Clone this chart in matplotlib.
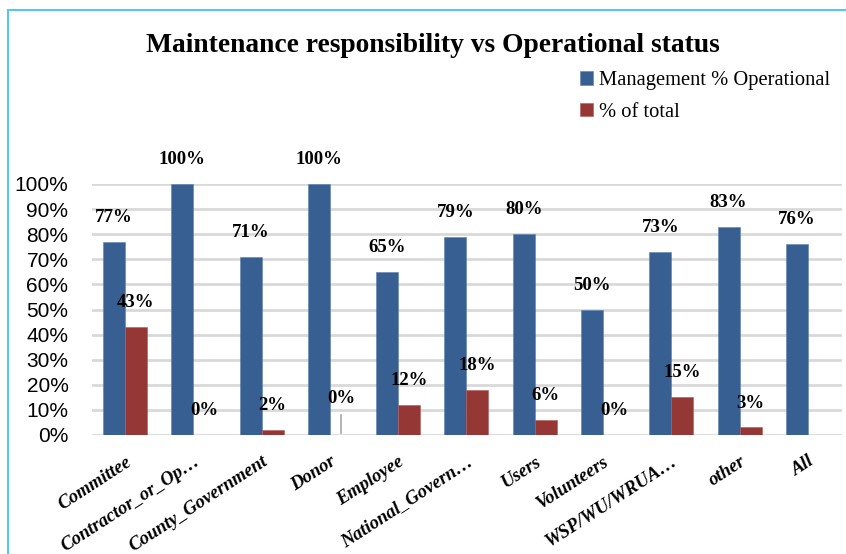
import matplotlib
matplotlib.use("Agg")
import matplotlib.pyplot as plt
from matplotlib.patches import Rectangle
import numpy as np

categories = ["Committee", "Contractor_or_Op…", "County_Government", "Donor", "Employee",
              "National_Govern…", "Users", "Volunteers", "WSP/WU/WRUA…", "other", "All"]
operational = [77, 100, 71, 100, 65, 79, 80, 50, 73, 83, 76]
share_total = [43, 0, 2, 0, 12, 18, 6, 0, 15, 3, None]
series_names = ["Management % Operational", "% of total"]
yticks = [0, 10, 20, 30, 40, 50, 60, 70, 80, 90, 100]

BLUE = "#385F91"
RED = "#953735"
GRID = "#D9D9D9"
SERIF = "Liberation Serif"
SANS = "Liberation Sans"

W, H = 846, 554
fig = plt.figure(figsize=(W / 100, H / 100), dpi=100)
ax = fig.add_axes([92 / W, 1 - 435 / H, 750 / W, 251 / H])

x = np.arange(len(categories))
bw = 0.322
op = np.array(operational, dtype=float) / 100
st = np.array([np.nan if v is None else v for v in share_total], dtype=float) / 100

b1 = ax.bar(x - bw / 2, op, bw, color=BLUE, edgecolor="#5B80B0", linewidth=0.4,
            label=series_names[0], zorder=3)
b2 = ax.bar(x + bw / 2, np.nan_to_num(st), bw, color=RED, edgecolor="#B05A58", linewidth=0.4,
            label=series_names[1], zorder=3)
for i, v in enumerate(share_total):
    if v is None:
        b2[i].set_visible(False)

lab_kw = dict(ha="center", va="center", fontsize=13.5, fontweight="bold", family=SERIF,
              textcoords="offset points", annotation_clip=False, zorder=5)
for xi, v in zip(x, operational):
    ax.annotate(f"{v}%", (xi - bw / 2, v / 100), xytext=(0, 17.6), **lab_kw)
for xi, v, cat in zip(x, share_total, categories):
    if v is None:
        continue
    if cat == "Donor":
        # label lifted above the empty bar, with a leader line down to it
        ax.annotate(f"{v}%", (xi + bw / 2, v / 100), xytext=(0, 26), **lab_kw)
        ax.plot([xi + bw / 2, xi + bw / 2], [0.008, 0.08], color="#A6A6A6", lw=1.2, zorder=4)
    else:
        ax.annotate(f"{v}%", (xi + bw / 2, v / 100), xytext=(0, 17.6), **lab_kw)

ax.set_xlim(-0.483, 10.5)
ax.set_ylim(0, 1)
ax.set_yticks([t / 100 for t in yticks])
ax.set_yticklabels([f"{t}%" for t in yticks], fontsize=15, family=SANS)
ax.yaxis.grid(True, color=GRID, linewidth=2, zorder=0)
ax.tick_params(axis="y", length=0, pad=17)
ax.tick_params(axis="x", length=0, pad=13)
for s in ax.spines.values():
    s.set_visible(False)
ax.set_xticks(x)
ax.set_xticklabels(categories, rotation=33, ha="right", va="top", rotation_mode="anchor",
                   fontsize=13.5, fontweight="bold", fontstyle="italic", family=SERIF)

fig.text(433 / W, 1 - 46 / H, "Maintenance responsibility vs Operational status",
         ha="center", va="center", fontsize=19.8, fontweight="bold", family=SERIF)

leg = fig.legend(handles=[b1, b2], labels=series_names, loc="upper left",
                 bbox_to_anchor=(572 / W, 1 - 63 / H), frameon=False,
                 prop={"family": SERIF, "size": 14.8}, handlelength=0.6, handleheight=0.6,
                 handletextpad=0.3, labelspacing=0.6, borderaxespad=0)

fig.patches.append(Rectangle((8 / W, -0.1), 1.2, 1.1 - 10 / H, transform=fig.transFigure,
                             fill=False, edgecolor="#5BC5F2", linewidth=1.5))

fig.savefig("out.png", dpi=100)
